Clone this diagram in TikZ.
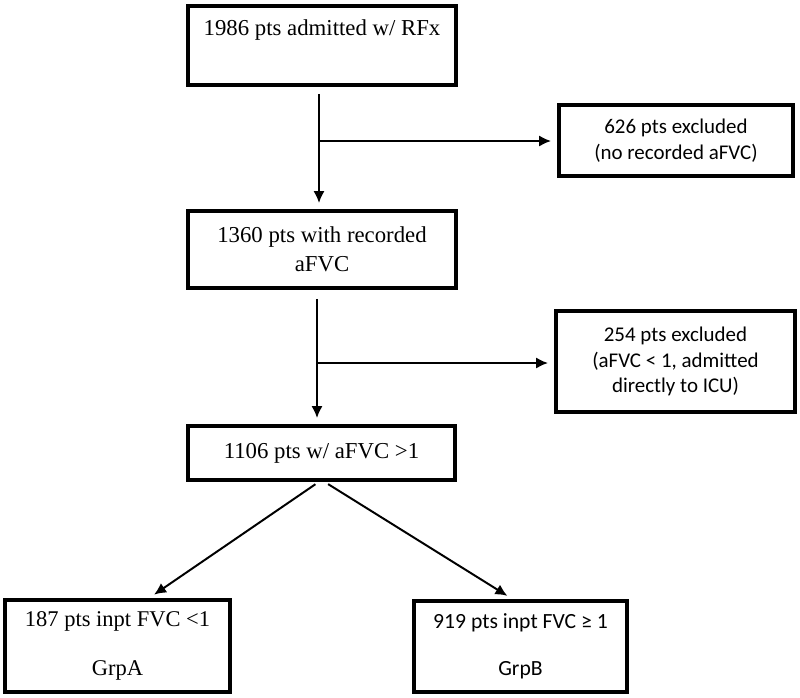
\documentclass[tikz,border=0pt]{standalone}
\usepackage{fontspec}
\setmainfont{Liberation Serif}
\newfontfamily\calibrifont{Carlito}
\usetikzlibrary{arrows.meta}
\tikzset{>={Latex[length=0.3cm,width=0.28cm]}}
\tikzset{
    box/.style={draw, line width=2.8pt, align=center, inner sep=0pt},
    serifbox/.style={box, font=\fontsize{16.2}{20.6}\selectfont},
    exclbox/.style={box, font=\calibrifont\fontsize{14.9}{18.3}\selectfont},
    flow/.style={->, line width=1.4pt, shorten >=0.15cm}
}

\begin{document}
\begin{tikzpicture}
    \useasboundingbox (0, 0) rectangle (20, -17.425);
    \node[serifbox, minimum width=6.7cm, minimum height=1.975cm, text height=0.4cm, text depth=0.925cm](admit) at (8.05, -1.1375){1986 pts admitted w/ RFx};
    \node[serifbox, minimum width=6.7cm, minimum height=1.925cm](recorded) at (8.05, -6.2375){1360 pts with recorded\\aFVC};
    \node[serifbox, minimum width=6.675cm, minimum height=1.35cm](above) at (8.0375, -11.325){1106 pts w/ aFVC >1};
    \node[exclbox, minimum width=5.85cm, minimum height=1.775cm](excl1) at (16.9, -3.5125){626 pts excluded\\(no recorded aFVC)};
    \node[exclbox, minimum width=5.975cm, minimum height=2.525cm](excl2) at (16.8875, -9.0375){254 pts excluded\\(aFVC < 1, admitted\\directly to ICU)};
    \node[box, font=\fontsize{16}{34.8}\selectfont, minimum width=5.625cm, minimum height=2.3cm](grpa) at (2.9375, -16.15){187 pts inpt FVC <1\\GrpA};
    \node[box, font=\calibrifont\fontsize{15.4}{33.4}\selectfont, minimum width=5.325cm, minimum height=2.275cm](grpb) at (13.0125, -16.1625){919 pts inpt FVC ≥ 1\\GrpB};
    \coordinate (j1) at (7.975, -3.525);
    \coordinate (j2) at (7.925, -9.075);
    \draw[flow, shorten <=0.175cm](admit.south -| j1)--(recorded.north -| j1);
    \draw[flow](j1)--(j1 -| excl1.west);
    \draw[flow, shorten <=0.225cm](recorded.south -| j2)--(above.north -| j2);
    \draw[flow](j2)--(j2 -| excl2.west);
    \draw[flow, shorten <=0.1cm]([xshift=-0.07cm]above.south)--([xshift=0.79cm]grpa.north);
    \draw[flow, shorten <=0.1cm]([xshift=0.08cm]above.south)--([xshift=-0.2cm]grpb.north);
\end{tikzpicture}
\end{document}
